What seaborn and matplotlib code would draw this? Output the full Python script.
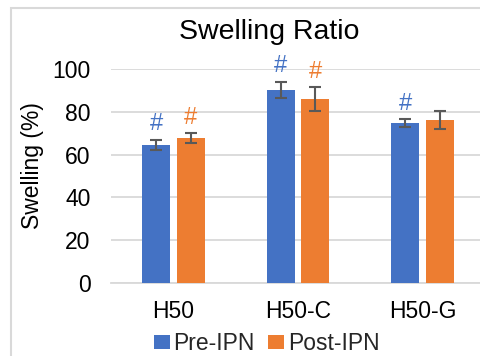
import matplotlib
matplotlib.use("Agg")
import matplotlib.pyplot as plt
import seaborn as sns
import pandas as pd
from matplotlib.patches import Rectangle

categories = ["H50", "H50-C", "H50-G"]
series = ["Pre-IPN", "Post-IPN"]
pre_values = [64.5, 90.2, 74.8]
post_values = [67.8, 86.0, 76.2]
pre_errors = [2.5, 3.9, 1.9]
post_errors = [2.3, 5.4, 4.4]
pre_marks = ["#", "#", "#"]
post_marks = ["#", "#", ""]
yticks = [0, 20, 40, 60, 80, 100]

colors = ["#4472C4", "#ED7D31"]
grid_c = "#D9D9D9"
err_c = "#595959"

sns.set_theme(style="white")
plt.rcParams["font.family"] = ["Liberation Sans", "DejaVu Sans"]

df = pd.DataFrame({
    "Sample": categories * 2,
    "Series": [series[0]] * 3 + [series[1]] * 3,
    "Swelling": pre_values + post_values,
})

W, H = 480, 356
fig = plt.figure(figsize=(W / 100, H / 100), dpi=100)
ax = fig.add_axes([111.25 / W, (H - 283) / H, 373.5 / W, 214 / H])

sns.barplot(data=df, x="Sample", y="Swelling", hue="Series", order=categories,
            hue_order=series, palette=colors, width=0.56, gap=0.2,
            saturation=1, errorbar=None, legend=False, ax=ax, zorder=3,
            linewidth=0)

bar_containers = list(ax.containers)
errs = [pre_errors, post_errors]
marks = [pre_marks, post_marks]
for k, cont in enumerate(bar_containers):
    xs = [b.get_x() + b.get_width() / 2 for b in cont.patches]
    hs = [b.get_height() for b in cont.patches]
    ax.errorbar(xs, hs, yerr=errs[k], fmt="none", ecolor=err_c, elinewidth=1.5,
                capsize=4.3, capthick=1.5, zorder=4)
    for x, h, e, m in zip(xs, hs, errs[k], marks[k]):
        if m:
            ax.text(x, h + e + 2.0, m, color=colors[k], ha="center", va="bottom",
                    fontsize=17, clip_on=False)

ax.set_xlim(-0.5, 2.5)
ax.set_ylim(0, 100)
ax.set_yticks(yticks)
ax.set_yticklabels([str(t) for t in yticks])
ax.set_xlabel("")
ax.set_ylabel("")
ax.grid(axis="y", color=grid_c, linewidth=1.3, zorder=0)
ax.set_axisbelow(True)
for s in ["left", "right", "top"]:
    ax.spines[s].set_visible(False)
ax.spines["bottom"].set_color(grid_c)
ax.spines["bottom"].set_linewidth(1.3)
ax.tick_params(axis="y", length=0, pad=15, labelsize=16.5, labelcolor="black")
ax.tick_params(axis="x", length=0, pad=12.5, labelsize=16.5, labelcolor="black")

fig.text(269.5 / W, 1 - 39 / H, "Swelling Ratio", ha="center", va="baseline",
         fontsize=20.5, color="black")
fig.text(32 / W, 1 - 166 / H, "Swelling (%)", ha="center", va="center",
         rotation=90, fontsize=16.5, color="black")

handles = [Rectangle((0, 0), 1, 1, facecolor=c, edgecolor="none") for c in colors]
fig.legend(handles, series, loc="center", bbox_to_anchor=(266.5 / W, 1 - 343.5 / H),
           ncol=2, frameon=False, fontsize=16.5, handlelength=0.7,
           handleheight=0.57, handletextpad=0.15, columnspacing=0.6,
           borderpad=0, borderaxespad=0)

fig.add_artist(Rectangle((11 / W, -0.1), 1.2, 1 - 7.5 / H + 0.1,
                         transform=fig.transFigure, facecolor="none",
                         edgecolor=grid_c, linewidth=1.5, zorder=0))

fig.savefig("out.png", dpi=100)
